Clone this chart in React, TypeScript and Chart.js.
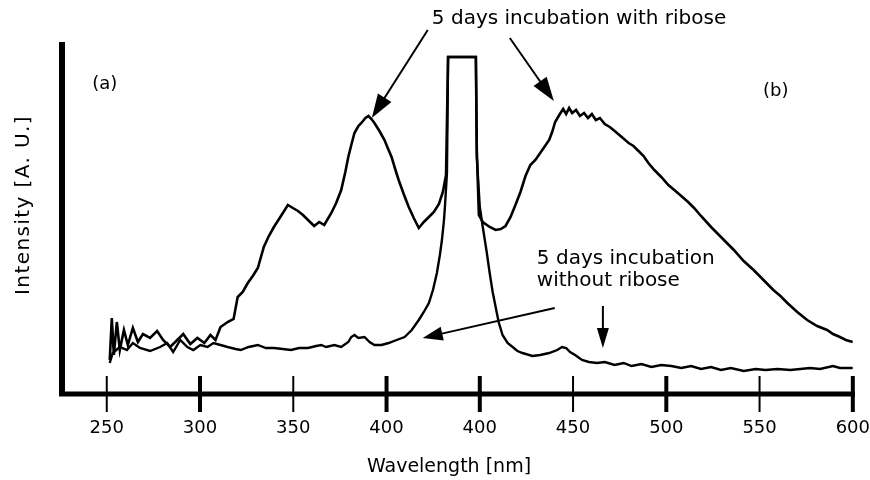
import React, { useEffect, useRef } from "react";
import { Chart, registerables } from "chart.js";

Chart.register(...registerables);

// ---- Panel (a): excitation spectra (wavelength nm, intensity A.U.) ----
const exWithWl = [251.6, 252.7, 253.8, 255.4, 257, 259.2, 261.3, 264, 266.7, 269.4, 273.2, 277, 280.2, 284, 287.8, 291, 294.8, 298.6, 302.3, 305.6, 308.3, 311, 314.8, 318, 320.2, 322.9, 325.6, 328.3, 331, 334.2, 336.9, 339.6, 343.4, 347.1, 349.8, 352.5, 355.2, 357.9, 361.2, 363.9, 366.6, 370.4, 373, 375.7, 377.9, 379.5, 381.1, 382.8, 384.9, 386.5, 388.7, 390.3, 391.9, 393.5, 396.2, 398.9, 401.1, 402.7, 404.8, 406.5, 409.2, 411.9, 414.6, 417.3, 420, 422.7, 425.4, 428.1, 430.2, 431.9, 433];
const exWithI = [33, 75, 38, 71, 43, 63, 48, 65, 51, 59, 55, 62, 53, 46, 53, 59, 49, 55, 50, 58, 53, 66, 71, 74, 96, 101, 110, 117, 125, 146, 157, 166, 177, 188, 185, 182, 178, 173, 167, 171, 168, 180, 190, 203, 221, 236, 248, 260, 267, 270, 275, 277, 274, 270, 262, 253, 243, 236, 223, 213, 199, 186, 175, 165, 171, 176, 181, 189, 201, 218, 336];

const exWithoutWl = [251.6, 253.2, 257, 260.8, 264, 267.8, 273.2, 278.6, 282.4, 285.6, 289.4, 293.2, 296.4, 300.2, 304, 307.2, 311, 314.8, 319.1, 321.8, 326.1, 331, 335.3, 339.6, 344.4, 348.8, 353.1, 357.9, 362.3, 365, 367.6, 372, 375.7, 379.5, 381.1, 382.8, 384.9, 388.2, 390.9, 393.5, 397.3, 401.1, 405.4, 409.7, 413.5, 417.3, 420, 422.7, 424.9, 427, 428.6, 429.7, 430.8, 431.3, 432.4, 433];
const exWithoutI = [30, 40, 46, 43, 50, 45, 42, 46, 50, 41, 53, 46, 43, 48, 46, 50, 48, 46, 44, 43, 46, 48, 45, 45, 44, 43, 45, 45, 47, 48, 46, 48, 46, 51, 56, 58, 55, 56, 51, 48, 48, 50, 53, 56, 63, 73, 81, 90, 103, 120, 138, 153, 173, 186, 220, 336];

// ---- Panel (b): emission spectra ----
const emWithWl = [397.9, 398.4, 399.5, 401.6, 405.3, 408.5, 411.2, 413.8, 416.5, 419.1, 421.8, 424.5, 427.1, 429.8, 433.5, 437.2, 438.8, 440.4, 442.6, 444.7, 446.3, 447.9, 449.5, 451.6, 453.7, 455.9, 458, 460.1, 462.2, 464.4, 467, 469.7, 472.3, 476.1, 479.8, 482.4, 485.1, 487.8, 490.4, 493.6, 497.3, 501.1, 504.3, 508, 511.7, 514.9, 518.6, 524, 529.3, 536.2, 541.5, 546.8, 552.1, 557.4, 561.2, 564.9, 570.2, 575.5, 580.9, 586.2, 589.4, 593.1, 596.3, 600];
const emWithI = [336, 243, 178, 171, 166, 163, 164, 167, 176, 188, 201, 217, 228, 233, 243, 253, 261, 271, 278, 284, 279, 285, 280, 283, 277, 280, 275, 279, 273, 275, 269, 266, 262, 256, 250, 247, 242, 237, 230, 223, 216, 208, 203, 197, 191, 185, 177, 166, 156, 143, 132, 123, 113, 103, 97, 90, 81, 73, 67, 63, 59, 56, 53, 51];

const emWithoutWl = [397.9, 398.4, 400, 401.6, 403.7, 405.3, 406.9, 408.5, 410.1, 412.2, 414.9, 417.6, 420.2, 422.9, 428.2, 432.4, 437.2, 441.5, 444.1, 446.3, 448.4, 451.1, 454.8, 458.5, 462.8, 467, 472.3, 477.1, 481.4, 486.7, 492, 497.3, 502.7, 508, 513.3, 518.6, 524, 529.3, 534.6, 541.5, 547.9, 553.2, 559.6, 566.5, 571.8, 577.1, 582.4, 589.4, 593.1, 600];
const emWithoutI = [336, 236, 186, 166, 141, 120, 101, 86, 71, 58, 50, 46, 42, 40, 37, 38, 40, 43, 46, 45, 41, 38, 33, 31, 30, 31, 28, 30, 27, 29, 26, 28, 27, 25, 27, 24, 26, 23, 25, 22, 24, 23, 24, 23, 24, 25, 24, 27, 25, 25];

// Panel (b) is drawn to the right of panel (a) on the shared axis, shifted by 50 units
const PANEL_B_SHIFT = 50;
const axisPositions = [250, 300, 350, 400, 450, 500, 550, 600, 650];
const tickLabels = ["250", "300", "350", "400", "400", "450", "500", "550", "600"];
const thickTicks = [false, true, false, true, true, false, true, false, true];

const FONT = '"DejaVu Sans", "Liberation Sans", sans-serif';

function series(wlA: number[], iA: number[], wlB: number[], iB: number[]) {
  const a = wlA.map((w, k) => ({ x: w, y: iA[k] }));
  const b = wlB.map((w, k) => ({ x: w + PANEL_B_SHIFT, y: iB[k] }));
  return a.concat(b);
}

function drawArrow(ctx: CanvasRenderingContext2D, x1: number, y1: number, x2: number, y2: number, len: number, w: number, lw: number) {
  const ang = Math.atan2(y2 - y1, x2 - x1);
  const c = Math.cos(ang), s = Math.sin(ang);
  ctx.lineWidth = lw;
  ctx.beginPath();
  ctx.moveTo(x1, y1);
  ctx.lineTo(x2 - c * len * 0.7, y2 - s * len * 0.7);
  ctx.stroke();
  ctx.beginPath();
  ctx.moveTo(x2, y2);
  ctx.lineTo(x2 - len * c + w * s, y2 - len * s - w * c);
  ctx.lineTo(x2 - len * c - w * s, y2 - len * s + w * c);
  ctx.closePath();
  ctx.fill();
}

const annotationPlugin = {
  id: "annotations",
  afterDraw(chart: any) {
    const ctx: CanvasRenderingContext2D = chart.ctx;
    const xs = chart.scales.x;
    const ys = chart.scales.y;
    const { left, right, top, bottom } = chart.chartArea;
    const px = (v: number) => xs.getPixelForValue(v);
    const py = (v: number) => ys.getPixelForValue(v);
    ctx.save();
    ctx.strokeStyle = "#000";
    ctx.fillStyle = "#000";
    ctx.lineCap = "butt";
    // axes
    ctx.lineWidth = 6;
    ctx.beginPath();
    ctx.moveTo(left, top);
    ctx.lineTo(left, bottom + 3);
    ctx.stroke();
    ctx.lineWidth = 5;
    ctx.beginPath();
    ctx.moveTo(left - 3, bottom + 1);
    ctx.lineTo(right + 2, bottom + 1);
    ctx.stroke();
    // crossing tick marks
    axisPositions.forEach((v, i) => {
      const x = px(v);
      ctx.lineWidth = thickTicks[i] ? 4 : 2;
      ctx.beginPath();
      ctx.moveTo(x, bottom - 17);
      ctx.lineTo(x, bottom + 19);
      ctx.stroke();
    });
    // arrows (data coordinates)
    drawArrow(ctx, px(422.1), py(363), px(392.1), py(275), 24, 8, 2);
    drawArrow(ctx, px(466.1), py(355), px(489.7), py(292), 24, 8, 2);
    drawArrow(ctx, px(490.2), py(85), px(419.4), py(55), 20, 7, 2);
    drawArrow(ctx, px(516), py(87), px(516), py(45), 20, 6, 2);
    // texts
    ctx.font = `20px ${FONT}`;
    ctx.textBaseline = "middle";
    ctx.textAlign = "left";
    ctx.fillText("5 days incubation with ribose", px(424.3), py(374.5));
    ctx.fillText("5 days incubation", px(480.6), py(134.5));
    ctx.fillText("without ribose", px(480.6), py(112));
    ctx.font = `18px ${FONT}`;
    ctx.textAlign = "center";
    ctx.fillText("(a)", px(248.9), py(309));
    ctx.fillText("(b)", px(608.7), py(302));
    // axis titles
    ctx.font = `19px ${FONT}`;
    ctx.fillText("Wavelength [nm]", 449, 467);
    ctx.save();
    (ctx as any).letterSpacing = "1.4px";
    ctx.font = `20px ${FONT}`;
    ctx.translate(24, 205);
    ctx.rotate(-Math.PI / 2);
    ctx.fillText("Intensity [A. U.]", 0, 0);
    ctx.restore();
    ctx.restore();
  },
};

export default function App() {
  const ref = useRef<HTMLCanvasElement | null>(null);
  useEffect(() => {
    if (!ref.current) return;
    const chart = new Chart(ref.current, {
      type: "line",
      data: {
        datasets: [
          {
            label: "5 days incubation with ribose",
            data: series(exWithWl, exWithI, emWithWl, emWithI),
            borderColor: "#000",
            borderWidth: 2.6,
            pointRadius: 0,
            tension: 0,
            fill: false,
          },
          {
            label: "5 days incubation without ribose",
            data: series(exWithoutWl, exWithoutI, emWithoutWl, emWithoutI),
            borderColor: "#000",
            borderWidth: 2.4,
            pointRadius: 0,
            tension: 0,
            fill: false,
          },
        ],
      },
      options: {
        responsive: false,
        animation: false,
        devicePixelRatio: 1,
        layout: { padding: { left: 62, right: 17, top: 42, bottom: 17 } },
        plugins: { legend: { display: false }, tooltip: { enabled: false } },
        scales: {
          x: {
            type: "linear",
            min: 226,
            max: 650,
            grid: { display: false, drawTicks: false },
            border: { display: false },
            afterBuildTicks: (scale: any) => {
              scale.ticks = axisPositions.map((v) => ({ value: v }));
            },
            ticks: {
              autoSkip: false,
              maxRotation: 0,
              padding: 0,
              color: "#000",
              font: { family: FONT, size: 18, lineHeight: 70 / 18 },
              callback: (value: any) => {
                const i = axisPositions.indexOf(Number(value));
                return i >= 0 ? tickLabels[i] : "";
              },
            },
          },
          y: { type: "linear", display: false, min: 0, max: 351 },
        },
      },
      plugins: [annotationPlugin],
    });
    return () => chart.destroy();
  }, []);
  return (
    <div style={{ position: "fixed", left: 0, top: 0, width: 870, height: 480, background: "#fff" }}>
      <canvas ref={ref} width={870} height={480} />
    </div>
  );
}
